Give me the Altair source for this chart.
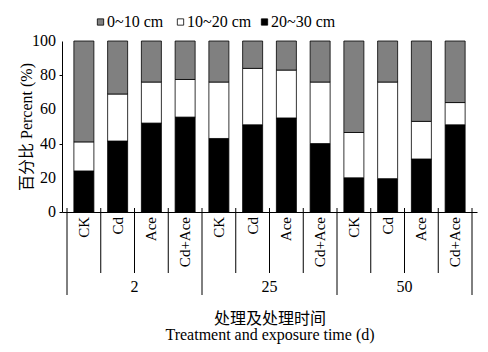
import altair as alt
import pandas as pd

days = ["2", "25", "50"]
treatments = ["CK", "Cd", "Ace", "Cd+Ace"]
layers = ["0~10 cm", "10~20 cm", "20~30 cm"]
colors = ["#808080", "#ffffff", "#000000"]
y_ticks = [0, 20, 40, 60, 80, 100]

# percent per layer, bars ordered (2: CK, Cd, Ace, Cd+Ace), (25: ...), (50: ...)
deep_20_30 = [24, 41.5, 52, 55.5, 43, 51, 55, 40, 20, 19.5, 31, 51]
mid_10_20 = [17, 27.5, 24, 22, 33, 33, 28, 36, 26.5, 56.5, 22, 13]
top_0_10 = [59, 31, 24, 22.5, 24, 16, 17, 24, 53.5, 24, 47, 36]

SERIF = "Liberation Serif, Noto Sans CJK SC"

rows = []
for i in range(12):
    for name, vals, rank in [("20~30 cm", deep_20_30, 0), ("10~20 cm", mid_10_20, 1), ("0~10 cm", top_0_10, 2)]:
        rows.append({"idx": i, "layer": name, "value": vals[i], "rank": rank})
df = pd.DataFrame(rows)

W, H = 415, 171

x_scale = alt.Scale(domain=[-0.5, 11.5], nice=False, zero=False)
y_scale = alt.Scale(domain=[0, 100], nice=False)
x_axis = alt.Axis(labels=False, ticks=False, grid=False, domainColor="black", domainWidth=1,
                  title=["处理及处理时间", "Treatment and exposure time (d)"],
                  titleFont=SERIF, titleFontSize=16, titleFontWeight="normal",
                  titleColor="black", titleY=98, titleBaseline="top", titleLineHeight=16.5)

bars = alt.Chart(df).mark_bar(size=20, stroke="black", strokeWidth=0.8).encode(
    x=alt.X("idx:Q", scale=x_scale, axis=x_axis),
    y=alt.Y("value:Q", stack="zero", scale=y_scale,
            axis=alt.Axis(values=y_ticks, tickSize=3, tickColor="black", labels=False,
                          grid=False, domainColor="black",
                          title="百分比 Percent (%)", titleFont=SERIF, titleFontSize=16,
                          titleFontWeight="normal", titleColor="black", titlePadding=24)),
    color=alt.Color("layer:N", scale=alt.Scale(domain=layers, range=colors), legend=None),
    order=alt.Order("rank:Q", sort="ascending"),
)

# y tick labels
ytick_df = pd.DataFrame({"v": y_ticks})
ytick_text = alt.Chart(ytick_df).mark_text(font=SERIF, fontSize=16, color="black",
                                           align="right", baseline="middle").encode(
    x=alt.value(-6), y=alt.Y("v:Q", scale=y_scale), text="v:Q")

# treatment labels below axis
tr_df = pd.DataFrame({"idx": list(range(12)), "name": treatments * 3})
tr_text = alt.Chart(tr_df).mark_text(font=SERIF, fontSize=15, color="black", angle=270,
                                     align="right", baseline="middle").encode(
    x=alt.X("idx:Q", scale=x_scale, axis=x_axis), y=alt.value(H + 5), text="name:N")

# separators below the axis
sep_pos = [k - 0.5 for k in range(13)]
sep_long = [k % 4 == 0 for k in range(13)]
sep_df = pd.DataFrame({"pos": sep_pos, "long": sep_long})

short_sep = alt.Chart(sep_df).transform_filter("!datum.long").mark_rule(
    color="black", strokeWidth=1, clip=False).encode(
    x=alt.X("pos:Q", scale=x_scale, axis=x_axis),
    y=alt.value(H - 4), y2=alt.value(H + 61))

long_sep = alt.Chart(sep_df).transform_filter("datum.long").mark_rule(
    color="black", strokeWidth=1, clip=False).encode(
    x=alt.X("pos:Q", scale=x_scale, axis=x_axis),
    y=alt.value(H - 4), y2=alt.value(H + 83))

grp_df = pd.DataFrame({"day": days, "center": [1.5, 5.5, 9.5]})
grp_text = alt.Chart(grp_df).mark_text(font=SERIF, fontSize=16, color="black",
                                       baseline="middle", clip=False).encode(
    x=alt.X("center:Q", scale=x_scale, axis=x_axis), y=alt.value(H + 75), text="day:N")

# legend (drawn manually so it uses the serif font)
leg_x = [38.5, 118.5, 202.5]
leg_parts = []
for name, col, lx in zip(layers, colors, leg_x):
    one = pd.DataFrame({"layer": [name]})
    leg_parts.append(alt.Chart(one).mark_square(size=40, stroke="black", strokeWidth=0.8,
                                                opacity=1).encode(
        x=alt.value(lx), y=alt.value(-19), fill=alt.value(col)))
    leg_parts.append(alt.Chart(one).mark_text(font=SERIF, fontSize=16, color="black",
                                              align="left", baseline="middle").encode(
        x=alt.value(lx + 6.5), y=alt.value(-19.5), text="layer:N"))

chart = alt.layer(bars, ytick_text, tr_text, short_sep, long_sep, grp_text, *leg_parts).properties(
    width=W, height=H,
    autosize=alt.AutoSizeParams(type="none"),
    padding={"left": 62, "top": 41, "right": 11, "bottom": 140},
    background="white",
).configure_view(strokeOpacity=0)

chart.save("out.html", embed_options={"renderer": "svg", "actions": False})
